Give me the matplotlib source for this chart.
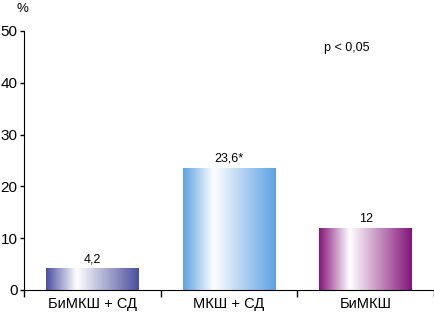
import matplotlib
matplotlib.use("Agg")
import matplotlib.pyplot as plt
import numpy as np
from matplotlib.colors import LinearSegmentedColormap

plt.rcParams['font.family'] = ['Liberation Sans', 'DejaVu Sans']

categories = ["БиМКШ + СД", "МКШ + СД", "БиМКШ"]
values = [4.2, 23.6, 12]
value_labels = ["4,2", "23,6*", "12"]
colors = ["#4b4f9c", "#5da2e2", "#84167a"]
yticks = [0, 10, 20, 30, 40, 50]

fig = plt.figure(figsize=(4.35, 3.15), dpi=100)
ax = fig.add_axes([0.055, 0.0794, 0.943, 0.8222])

x = np.arange(len(categories))
bars = ax.bar(x, values, width=0.68, color='none', edgecolor='none')

grad = np.linspace(0, 1, 256)
for bar, c in zip(bars, colors):
    cmap = LinearSegmentedColormap.from_list(
        "g", [(0, c), (0.33, "#ffffff"), (1.0, c)])
    bx, by = bar.get_x(), bar.get_y()
    w, h = bar.get_width(), bar.get_height()
    im = ax.imshow(grad[np.newaxis, :], cmap=cmap, aspect='auto',
                   extent=[bx, bx + w, by, by + h], zorder=2,
                   interpolation='bicubic')
    im.set_clip_path(bar)

for xi, v, lab in zip(x, values, value_labels):
    ax.text(xi, v + 0.6, lab, ha='center', va='bottom', fontsize=9)

ax.set_xlim(-0.5, 2.5)
ax.set_ylim(0, 50)
ax.set_yticks(yticks)
ax.set_yticklabels([str(t) for t in yticks], fontsize=11)
ax.set_xticks([-0.5, 0.5, 1.5, 2.5])
ax.set_xticklabels([])
ax.set_xticks(x, minor=True)
ax.set_xticklabels(categories, minor=True, fontsize=10.5)
ax.tick_params(axis='x', which='minor', length=0, pad=5)
ax.tick_params(axis='x', which='major', length=5, width=1, direction='out')
ax.tick_params(axis='y', length=3, width=1, direction='out', pad=1.5)

for s in ['top', 'right']:
    ax.spines[s].set_visible(False)
ax.spines['left'].set_bounds(0, 50)

ax.text(-0.018, 1.06, "%", transform=ax.transAxes, fontsize=9.5, ha='left', va='bottom')
ax.text(1.86, 46.7, "p < 0,05", fontsize=9, ha='center', va='center')

fig.savefig("out.png", dpi=100)
